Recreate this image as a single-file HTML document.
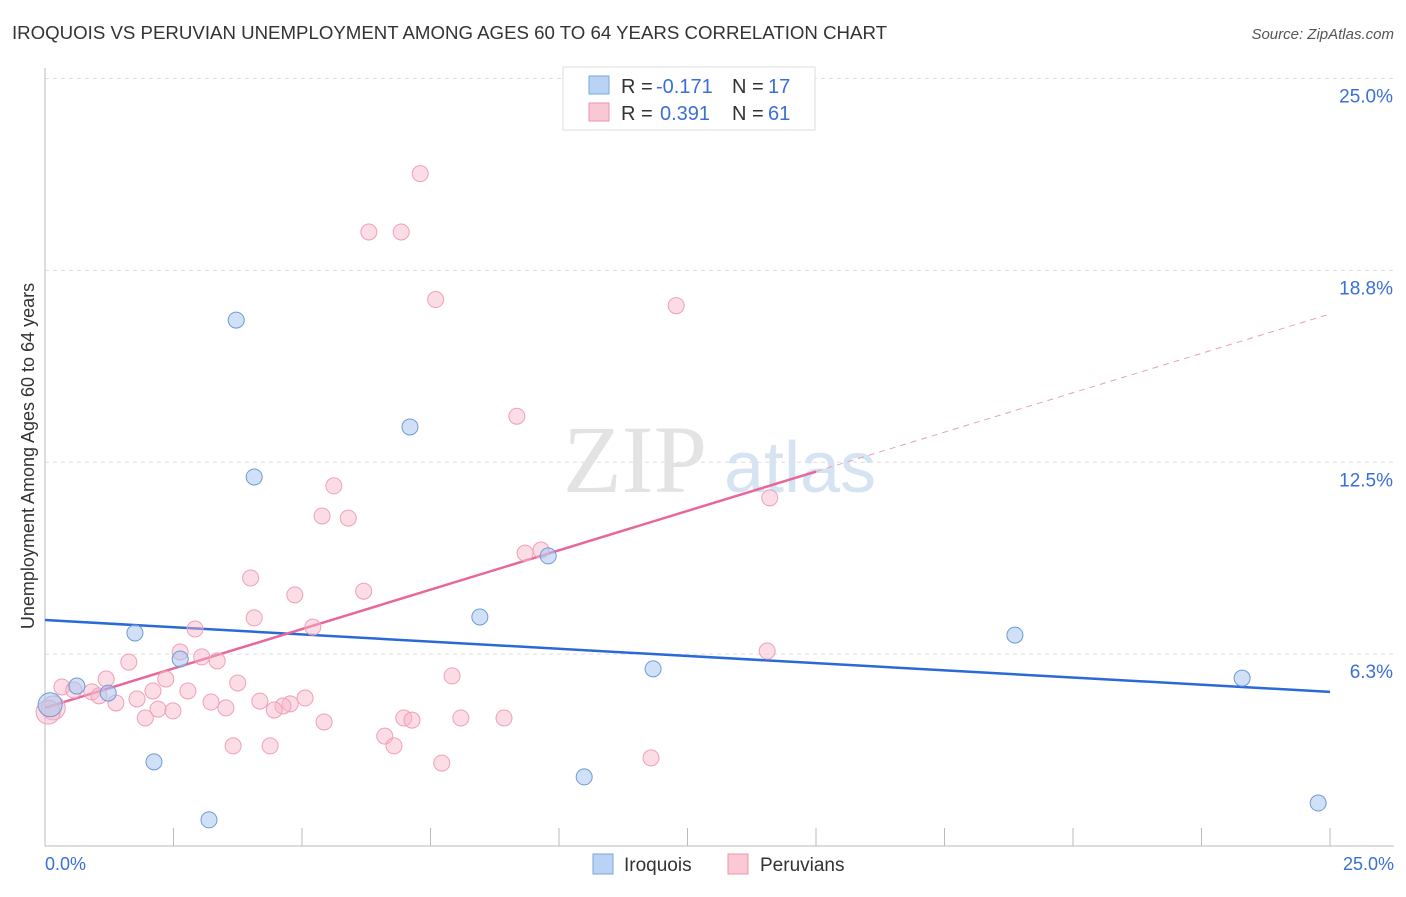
<!DOCTYPE html>
<html><head><meta charset="utf-8"><style>
body{margin:0;background:#fff;font-family:"Liberation Sans",sans-serif;}
</style></head><body>
<svg width="1406" height="892" xmlns="http://www.w3.org/2000/svg" font-family="Liberation Sans, sans-serif">
<text x="12" y="39" font-size="18" fill="#333" textLength="875" lengthAdjust="spacingAndGlyphs">IROQUOIS VS PERUVIAN UNEMPLOYMENT AMONG AGES 60 TO 64 YEARS CORRELATION CHART</text>
<text x="1394" y="39" font-size="15" fill="#555" text-anchor="end" font-style="italic">Source: ZipAtlas.com</text>
<g id="grid"></g>
<text x="635" y="492" font-size="96" fill="#e3e3e3" font-family="Liberation Serif, serif" text-anchor="middle">ZIP</text>
<text x="800" y="492" font-size="72" fill="#d5e3f3" text-anchor="middle">atlas</text>
<text transform="translate(34,456) rotate(-90)" font-size="18" fill="#333" text-anchor="middle">Unemployment Among Ages 60 to 64 years</text>
<g id="axes"></g>
<g id="lines"></g>
<g id="points"></g>
<g>
<rect x="563" y="67" width="252" height="63" fill="#fff" stroke="#ddd"/>
<rect x="589" y="76" width="20" height="18" fill="#b9d3f5" stroke="#7aa6e0"/>
<rect x="589" y="103" width="20" height="18" fill="#fbc8d6" stroke="#ee93ad"/>
<text x="621" y="93" font-size="20" fill="#333">R =</text>
<text x="656" y="93" font-size="20" fill="#3a6fd8">-0.171</text>
<text x="732" y="93" font-size="20" fill="#333">N =</text>
<text x="768" y="93" font-size="20" fill="#3a6fd8">17</text>
<text x="621" y="120" font-size="20" fill="#333">R =</text>
<text x="660" y="120" font-size="20" fill="#3a6fd8">0.391</text>
<text x="732" y="120" font-size="20" fill="#333">N =</text>
<text x="768" y="120" font-size="20" fill="#3a6fd8">61</text>
</g>
<g>
<rect x="593" y="854" width="20" height="20" fill="#b9d3f5" stroke="#7aa6e0"/>
<text x="624" y="871" font-size="19" fill="#333">Iroquois</text>
<rect x="728" y="854" width="20" height="20" fill="#fbc8d6" stroke="#ee93ad"/>
<text x="760" y="871" font-size="19" fill="#333">Peruvians</text>
</g>
</svg>
<script>
const yTicks=[6.25,12.5,18.75,25];
const yTickLabels=["6.3%","12.5%","18.8%","25.0%"];
const xLabels=["0.0%","25.0%"];
const iroX=[3.72,7.1,4.07,9.79,8.46,1.75,18.87,2.63,11.83,23.29,0.62,1.23,0.1,2.12,10.49,3.19,24.77];
const iroY=[17.13,13.65,12.02,9.45,7.46,6.94,6.87,6.09,5.77,5.47,5.21,4.98,4.6,2.74,2.25,0.85,1.40];
const peruX=[7.3,6.3,6.93,7.6,12.28,9.18,5.62,5.39,5.9,14.1,9.34,9.65,4.0,6.2,4.86,4.07,5.21,2.92,14.05,2.63,3.05,3.35,1.63,7.92,1.19,2.35,3.75,0.33,0.56,2.1,2.78,0.91,1.05,5.06,1.79,4.18,3.23,1.38,4.77,4.63,3.52,2.2,2.49,4.46,0.16,1.95,5.43,6.98,7.14,8.09,8.93,6.61,3.66,4.38,6.79,7.72,11.79,0.06];
const peruY=[21.9,20.0,20.0,17.8,17.6,14.0,11.73,10.75,10.68,11.34,9.54,9.64,8.73,8.3,8.18,7.43,7.13,7.07,6.35,6.32,6.16,6.03,5.99,5.54,5.44,5.44,5.31,5.18,5.08,5.05,5.05,5.02,4.89,4.82,4.79,4.72,4.69,4.66,4.63,4.56,4.5,4.46,4.4,4.43,4.5,4.17,4.04,4.17,4.1,4.17,4.17,3.58,3.26,3.26,3.26,2.7,2.87,4.36];
const iroTrend=[7.36,5.02];
const peruTrend=[4.5,17.33];
const NS="http://www.w3.org/2000/svg";
const X=v=>45+v*51.4, Y=v=>846-v*30.7;
function mk(tag,attrs,parent){const e=document.createElementNS(NS,tag);for(const k in attrs)e.setAttribute(k,attrs[k]);document.getElementById(parent).appendChild(e);return e;}
yTicks.forEach((t,i)=>{
 const l=mk('line',{x1:45,x2:1394,y1:Y(t),y2:Y(t),stroke:'#ddd','stroke-dasharray':'4,4'},'grid');
 
 
 const tx=mk('text',{x:1393,y:Y(t)+24,'font-size':19,fill:'#3a6fd8','text-anchor':'end'},'grid');
 tx.textContent=yTickLabels[i];
 
 
});
const ax=mk('line',{x1:45,x2:1394,y1:846,y2:846,stroke:'#bbb'},'axes');


const ay=mk('line',{x1:45,x2:45,y1:68,y2:846,stroke:'#bbb'},'axes');


for(let i=0;i<=10;i++){const t=mk('line',{x1:X(i*2.5),x2:X(i*2.5),y1:828,y2:846,stroke:'#bbb'},'axes');
 
 }
[[0,45,'start'],[25,1394,'end']].forEach((d,i)=>{const t=mk('text',{x:d[1],y:870,'font-size':18,fill:'#3a6fd8','text-anchor':d[2]},'axes');t.textContent=xLabels[i];
 
 });
peruX.forEach((x,i)=>{const c=mk('circle',{cx:X(x),cy:Y(peruY[i]),r:(x<0.2?12:8),fill:'rgba(248,180,200,0.45)',stroke:'#eea0b8','stroke-width':1},'points');
 
 });
iroX.forEach((x,i)=>{const c=mk('circle',{cx:X(x),cy:Y(iroY[i]),r:(x<0.2?12:8),fill:'rgba(170,200,240,0.55)',stroke:'#6e9ad8','stroke-width':1},'points');
 
 });
const pm=v=>peruTrend[0]+(peruTrend[1]-peruTrend[0])*v/25;
const l1=mk('line',{x1:X(0),y1:Y(iroTrend[0]),x2:X(25),y2:Y(iroTrend[1]),stroke:'#2a6ad6','stroke-width':2.5},'lines');


const l2=mk('line',{x1:X(0),y1:Y(pm(0)),x2:X(15),y2:Y(pm(15)),stroke:'#e8679a','stroke-width':2.5},'lines');


const l3=mk('line',{x1:X(15),y1:Y(pm(15)),x2:X(25),y2:Y(pm(25)),stroke:'#e8a0b8','stroke-width':1,'stroke-dasharray':'6,5'},'lines');


</script>
</body></html>
